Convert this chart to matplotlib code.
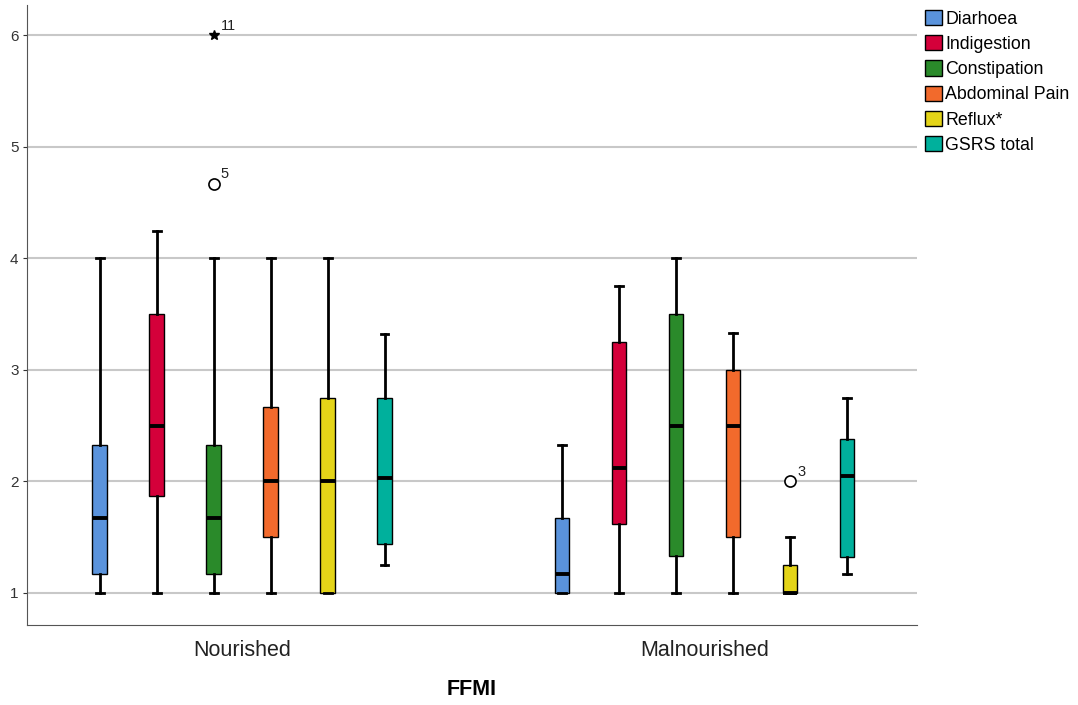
import matplotlib.pyplot as plt
from matplotlib.patches import Patch

plt.rcParams['font.family'] = ['Liberation Sans', 'DejaVu Sans']

groups = ['Nourished', 'Malnourished']
series = ['Diarhoea', 'Indigestion', 'Constipation', 'Abdominal Pain', 'Reflux*', 'GSRS total']
colors = ['#5a93dc', '#d4003a', '#2a8a2a', '#f26a2c', '#e4d418', '#00b09c']

# box stats per group, one value per series
nour_lo = [1, 1, 1, 1, 1, 1.25]
nour_q1 = [1.17, 1.87, 1.17, 1.5, 1, 1.44]
nour_med = [1.67, 2.5, 1.67, 2, 2, 2.03]
nour_q3 = [2.33, 3.5, 2.33, 2.67, 2.75, 2.75]
nour_hi = [4, 4.25, 4, 4, 4, 3.32]

mal_lo = [1, 1, 1, 1, 1, 1.17]
mal_q1 = [1, 1.62, 1.33, 1.5, 1, 1.32]
mal_med = [1.17, 2.12, 2.5, 2.5, 1, 2.05]
mal_q3 = [1.67, 3.25, 3.5, 3.0, 1.25, 2.38]
mal_hi = [2.33, 3.75, 4, 3.33, 1.5, 2.75]

# outliers: (group, series, value, case label, kind)
outliers = [(0, 2, 4.67, '5', 'o'), (0, 2, 6.0, '11', '*'), (1, 4, 2.0, '3', 'o')]

fig = plt.figure(figsize=(10.78, 7.05), dpi=100)
ax = fig.add_axes([0.025, 0.1135, 0.8257, 0.8795])

step = 0.1232
stats_all = [(nour_lo, nour_q1, nour_med, nour_q3, nour_hi),
             (mal_lo, mal_q1, mal_med, mal_q3, mal_hi)]
for g, (lo, q1, med, q3, hi) in enumerate(stats_all):
    for i in range(len(series)):
        pos = g + (i - 2.5) * step
        st = [dict(whislo=lo[i], q1=q1[i], med=med[i], q3=q3[i], whishi=hi[i], fliers=[])]
        ax.bxp(st, positions=[pos], widths=0.031, capwidths=0.017, patch_artist=True,
               showfliers=False, manage_ticks=False,
               boxprops=dict(facecolor=colors[i], edgecolor='black', linewidth=1),
               whiskerprops=dict(color='black', linewidth=2),
               capprops=dict(color='black', linewidth=2),
               medianprops=dict(color='black', linewidth=2.8, solid_capstyle='butt'),
               zorder=3)

for g, i, v, lab, kind in outliers:
    pos = g + (i - 2.5) * step
    if kind == 'o':
        ax.plot(pos, v, 'o', mfc='white', mec='black', ms=8, mew=1.2, zorder=4)
    else:
        ax.plot(pos, v, '*', color='black', ms=7, zorder=4)
    ax.annotate(lab, (pos, v), xytext=(5, 4), textcoords='offset points',
                fontsize=10.5, color='#222222')

ax.set_xlim(-0.465, 1.459)
ax.set_ylim(0.713, 6.274)
ax.set_yticks([1, 2, 3, 4, 5, 6])
ax.set_xticks([0, 1])
ax.set_xticklabels(groups, fontsize=15.5, color='#222222')
ax.tick_params(axis='x', length=0, pad=11)
ax.tick_params(axis='y', length=3, labelsize=11, colors='#333333', pad=3)
ax.grid(axis='y', color='#c8c8c8', linewidth=1.5, zorder=0)
ax.set_axisbelow(True)
ax.set_xlabel('FFMI', fontsize=15.5, fontweight='bold', labelpad=13)
ax.spines['top'].set_visible(False)
ax.spines['right'].set_visible(False)
ax.spines['left'].set_color('#555555')
ax.spines['bottom'].set_color('#555555')

handles = [Patch(facecolor=c, edgecolor='black', label=s) for c, s in zip(colors, series)]
fig.legend(handles=handles, loc='upper left', bbox_to_anchor=(0.849, 1.0), frameon=False,
           fontsize=12.8, handlelength=0.95, handleheight=0.95, handletextpad=0.2,
           labelspacing=0.42, borderaxespad=0.15)

fig.savefig('out.png', dpi=100)
